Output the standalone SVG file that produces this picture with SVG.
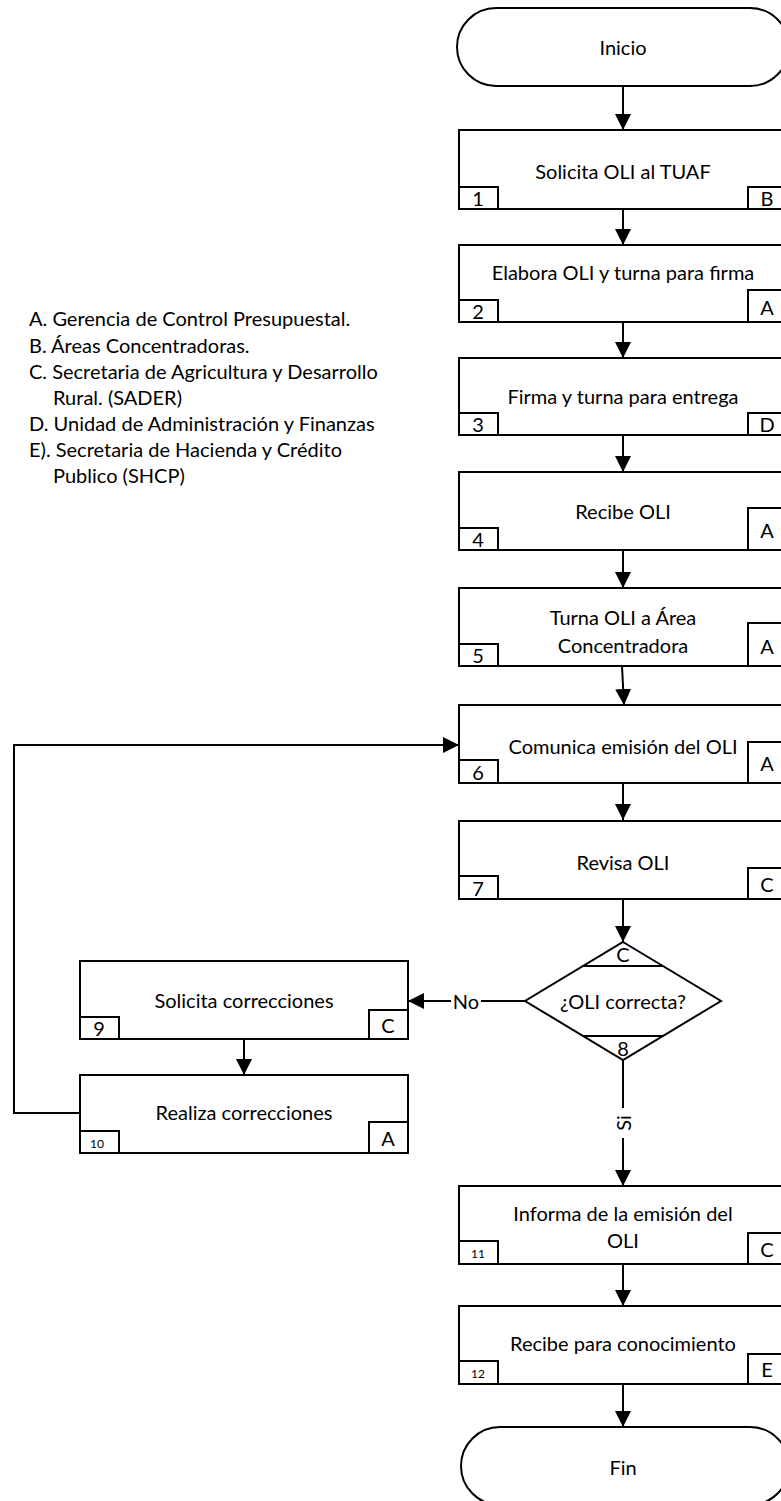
<svg xmlns="http://www.w3.org/2000/svg" width="781" height="1501" viewBox="0 0 781 1501">
<style>
.shape{fill:#fff;stroke:#000;stroke-width:2}
.tag{fill:#fff;stroke:#000;stroke-width:2}
.t{font-family:Lato,"Liberation Sans",sans-serif;font-size:20px;fill:#000;text-anchor:middle;dominant-baseline:central}
.s{font-family:Lato,"Liberation Sans",sans-serif;font-size:12px;fill:#000;text-anchor:middle;dominant-baseline:central}
.lg{font-family:Lato,"Liberation Sans",sans-serif;font-size:20px;fill:#000;dominant-baseline:central}
.c{fill:none;stroke:#000;stroke-width:2}
</style>
<defs>
<marker id="ah" viewBox="0 0 10 10" refX="10" refY="5" markerWidth="16" markerHeight="16" markerUnits="userSpaceOnUse" orient="auto">
<path d="M0,0 L10,5 L0,10 z" fill="#000"/>
</marker>
</defs>

<g id="legend">
<text class="lg" x="29" y="318">A. Gerencia de Control Presupuestal.</text>
<text class="lg" x="29" y="345">B. Áreas Concentradoras.</text>
<text class="lg" x="29" y="371">C. Secretaria de Agricultura y Desarrollo</text>
<text class="lg" x="53" y="397">Rural. (SADER)</text>
<text class="lg" x="29" y="423">D. Unidad de Administración y Finanzas</text>
<text class="lg" x="29" y="449">E). Secretaria de Hacienda y Crédito</text>
<text class="lg" x="53" y="475">Publico (SHCP)</text>
</g>

<g id="connectors">
<line class="c" x1="623" y1="86" x2="623" y2="130" marker-end="url(#ah)"/>
<line class="c" x1="623" y1="209" x2="623" y2="245" marker-end="url(#ah)"/>
<line class="c" x1="623" y1="322" x2="623" y2="358" marker-end="url(#ah)"/>
<line class="c" x1="623" y1="435" x2="623" y2="472" marker-end="url(#ah)"/>
<line class="c" x1="623" y1="550" x2="623" y2="588" marker-end="url(#ah)"/>
<line class="c" x1="622" y1="666" x2="624" y2="705" marker-end="url(#ah)"/>
<line class="c" x1="623" y1="783" x2="623" y2="820" marker-end="url(#ah)"/>
<line class="c" x1="623" y1="899" x2="623" y2="942" marker-end="url(#ah)"/>
<line class="c" x1="525" y1="1001" x2="408" y2="1001" marker-end="url(#ah)"/>
<rect x="451" y="990" width="30" height="22" fill="#fff"/>
<text class="t" x="466" y="1001">No</text>
<line class="c" x1="244" y1="1039" x2="244" y2="1075" marker-end="url(#ah)"/>
<path class="c" d="M80,1113 H14 V745 H459" marker-end="url(#ah)"/>
<line class="c" x1="623" y1="1060" x2="623" y2="1186" marker-end="url(#ah)"/>
<rect x="612" y="1108" width="22" height="30" fill="#fff"/>
<text class="t" x="623" y="1123" transform="rotate(-90 623 1123)">Si</text>
<line class="c" x1="623" y1="1264" x2="623" y2="1306" marker-end="url(#ah)"/>
<line class="c" x1="623" y1="1384" x2="623" y2="1427" marker-end="url(#ah)"/>
</g>

<g id="inicio">
<rect class="shape" x="457" y="8" width="332" height="78" rx="39"/>
<text class="t" x="623" y="47">Inicio</text>
</g>

<g id="n1">
<rect class="shape" x="459" y="130" width="328" height="79"/>
<text class="t" x="623" y="171">Solicita OLI al TUAF</text>
<rect class="tag" x="459" y="187" width="39" height="22"/>
<text class="t" x="478" y="198">1</text>
<rect class="tag" x="748" y="187" width="39" height="22"/>
<text class="t" x="767" y="198">B</text>
</g>

<g id="n2">
<rect class="shape" x="459" y="245" width="328" height="77"/>
<text class="t" x="623" y="272">Elabora OLI y turna para firma</text>
<rect class="tag" x="459" y="300" width="39" height="22"/>
<text class="t" x="478" y="311">2</text>
<rect class="tag" x="748" y="290" width="39" height="32"/>
<text class="t" x="767" y="307">A</text>
</g>

<g id="n3">
<rect class="shape" x="459" y="358" width="328" height="77"/>
<text class="t" x="623" y="396">Firma y turna para entrega</text>
<rect class="tag" x="459" y="413" width="39" height="22"/>
<text class="t" x="478" y="424">3</text>
<rect class="tag" x="748" y="413" width="39" height="22"/>
<text class="t" x="767" y="424">D</text>
</g>

<g id="n4">
<rect class="shape" x="459" y="472" width="328" height="78"/>
<text class="t" x="623" y="511">Recibe OLI</text>
<rect class="tag" x="459" y="528" width="39" height="22"/>
<text class="t" x="478" y="539">4</text>
<rect class="tag" x="748" y="508" width="39" height="42"/>
<text class="t" x="767" y="530">A</text>
</g>

<g id="n5">
<rect class="shape" x="459" y="588" width="328" height="78"/>
<text class="t" x="623" y="617">Turna OLI a Área</text>
<text class="t" x="623" y="645">Concentradora</text>
<rect class="tag" x="459" y="644" width="39" height="22"/>
<text class="t" x="478" y="655">5</text>
<rect class="tag" x="748" y="623" width="39" height="43"/>
<text class="t" x="767" y="646">A</text>
</g>

<g id="n6">
<rect class="shape" x="459" y="705" width="328" height="78"/>
<text class="t" x="623" y="746">Comunica emisión del OLI</text>
<rect class="tag" x="459" y="760" width="39" height="23"/>
<text class="t" x="478" y="772">6</text>
<rect class="tag" x="748" y="742" width="39" height="41"/>
<text class="t" x="767" y="763">A</text>
</g>

<g id="n7">
<rect class="shape" x="459" y="821" width="328" height="78"/>
<text class="t" x="623" y="862">Revisa OLI</text>
<rect class="tag" x="459" y="876" width="39" height="23"/>
<text class="t" x="478" y="888">7</text>
<rect class="tag" x="748" y="868" width="39" height="31"/>
<text class="t" x="767" y="884">C</text>
</g>

<g id="n8">
<path class="shape" d="M623,942 L721,1001 L623,1060 L525,1001 Z"/>
<line class="c" x1="583" y1="966" x2="663" y2="966"/>
<line class="c" x1="583" y1="1036" x2="663" y2="1036"/>
<text class="t" x="623" y="954">C</text>
<text class="t" x="623" y="1001">¿OLI correcta?</text>
<text class="t" x="623" y="1048">8</text>
</g>

<g id="n9">
<rect class="shape" x="80" y="961" width="328" height="78"/>
<text class="t" x="244" y="1000">Solicita correcciones</text>
<rect class="tag" x="80" y="1017" width="39" height="22"/>
<text class="t" x="99" y="1028">9</text>
<rect class="tag" x="369" y="1010" width="39" height="29"/>
<text class="t" x="388" y="1025">C</text>
</g>

<g id="n10">
<rect class="shape" x="80" y="1075" width="328" height="78"/>
<text class="t" x="244" y="1112">Realiza correcciones</text>
<rect class="tag" x="80" y="1131" width="39" height="22"/>
<text class="s" x="97" y="1143">10</text>
<rect class="tag" x="369" y="1122" width="39" height="31"/>
<text class="t" x="388" y="1138">A</text>
</g>

<g id="n11">
<rect class="shape" x="459" y="1186" width="328" height="78"/>
<text class="t" x="623" y="1213">Informa de la emisión del</text>
<text class="t" x="623" y="1240">OLI</text>
<rect class="tag" x="459" y="1241" width="39" height="23"/>
<text class="s" x="478" y="1253">11</text>
<rect class="tag" x="748" y="1233" width="39" height="31"/>
<text class="t" x="767" y="1249">C</text>
</g>

<g id="n12">
<rect class="shape" x="459" y="1306" width="328" height="78"/>
<text class="t" x="623" y="1343">Recibe para conocimiento</text>
<rect class="tag" x="459" y="1361" width="39" height="23"/>
<text class="s" x="478" y="1373">12</text>
<rect class="tag" x="748" y="1354" width="39" height="30"/>
<text class="t" x="767" y="1369">E</text>
</g>

<g id="fin">
<rect class="shape" x="461" y="1427" width="328" height="78" rx="39"/>
<text class="t" x="623" y="1467">Fin</text>
</g>
</svg>
